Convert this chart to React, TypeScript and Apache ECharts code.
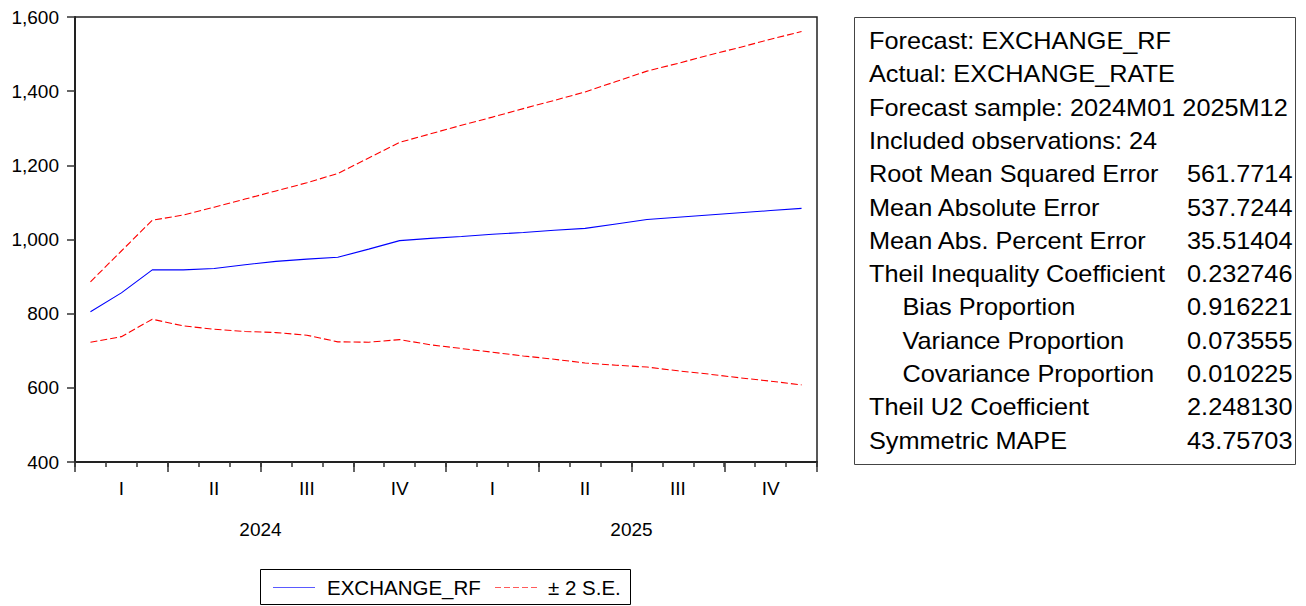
import React, { useEffect, useRef } from "react";
import * as echarts from "echarts";

const months = [
  "2024M01", "2024M02", "2024M03", "2024M04", "2024M05", "2024M06",
  "2024M07", "2024M08", "2024M09", "2024M10", "2024M11", "2024M12",
  "2025M01", "2025M02", "2025M03", "2025M04", "2025M05", "2025M06",
  "2025M07", "2025M08", "2025M09", "2025M10", "2025M11", "2025M12",
];
const quarterLabels = ["I", "II", "III", "IV", "I", "II", "III", "IV"];
const yearLabels = ["2024", "2025"];

const forecast = [805, 856, 918, 918, 922, 932, 941, 947, 952, 974, 997, 1003,
  1008, 1014, 1019, 1025, 1030, 1042, 1054, 1060, 1066, 1072, 1078, 1084];
const upperBand = [886, 969, 1052, 1066, 1087, 1109, 1131, 1153, 1178, 1220, 1262, 1285,
  1308, 1330, 1353, 1375, 1398, 1426, 1454, 1475, 1497, 1518, 1540, 1561];
const lowerBand = [723, 738, 785, 767, 758, 752, 749, 742, 724, 723, 730, 716,
  706, 696, 686, 677, 667, 661, 656, 646, 637, 627, 618, 608];

const statLabels = [
  "Forecast: EXCHANGE_RF",
  "Actual: EXCHANGE_RATE",
  "Forecast sample: 2024M01 2025M12",
  "Included observations: 24",
  "Root Mean Squared Error",
  "Mean Absolute Error",
  "Mean Abs. Percent Error",
  "Theil Inequality Coefficient",
  "Bias Proportion",
  "Variance Proportion",
  "Covariance Proportion",
  "Theil U2 Coefficient",
  "Symmetric MAPE",
];
const statValues = ["", "", "", "", "561.7714", "537.7244", "35.51404", "0.232746",
  "0.916221", "0.073555", "0.010225", "2.248130", "43.75703"];
const statIndented = [false, false, false, false, false, false, false, false, true, true, true, false, false];

const FONT = "'Liberation Sans', Arial, Helvetica, sans-serif";

export default function App() {
  const ref = useRef<HTMLDivElement>(null);
  useEffect(() => {
    if (!ref.current) return;
    const chart = echarts.init(ref.current, null, { renderer: "svg" });
    const axisColor = "#222";
    const tickStyle = { color: "#333", width: 1.5 };
    const labelBase = { color: "#000", fontSize: 19, fontFamily: FONT };
    const dash = [7, 3];

    const graphics: any[] = [];
    // stats panel
    graphics.push({
      type: "rect",
      shape: { x: 854.5, y: 17.5, width: 441, height: 447 },
      style: { fill: "#fff", stroke: "#444", lineWidth: 1 },
      z: 10,
    });
    statLabels.forEach((t, i) => {
      const y = 41 + 33.3 * i;
      graphics.push({
        type: "text",
        x: statIndented[i] ? 902.5 : 869,
        y,
        scaleX: 1.1,
        z: 11,
        style: {
          text: t, x: 0, y: 0, fill: "#000", fontSize: 23, fontFamily: FONT,
          textAlign: "left", textVerticalAlign: "middle", align: "left", verticalAlign: "middle",
        },
      });
      if (statValues[i]) {
        graphics.push({
          type: "text",
          x: 1292.5,
          y,
          scaleX: 1.1,
          z: 11,
          style: {
            text: statValues[i], x: 0, y: 0, fill: "#000", fontSize: 23, fontFamily: FONT,
            textAlign: "right", textVerticalAlign: "middle", align: "right", verticalAlign: "middle",
          },
        });
      }
    });
    // legend
    graphics.push({
      type: "rect",
      shape: { x: 260.5, y: 569.5, width: 370, height: 35 },
      style: { fill: "#fff", stroke: "#000", lineWidth: 1 },
      z: 10,
    });
    graphics.push({
      type: "line",
      shape: { x1: 273, y1: 587.5, x2: 315, y2: 587.5 },
      style: { stroke: "#5a5aff", lineWidth: 1 },
      z: 11,
    });
    graphics.push({
      type: "text",
      x: 327, y: 587.5, z: 11,
      style: {
        text: "EXCHANGE_RF", x: 0, y: 0, fill: "#000", fontSize: 20.5, fontFamily: FONT,
        textAlign: "left", textVerticalAlign: "middle", align: "left", verticalAlign: "middle",
      },
    });
    graphics.push({
      type: "line",
      shape: { x1: 495, y1: 587.5, x2: 537, y2: 587.5 },
      style: { stroke: "#ff5a5a", lineWidth: 1, lineDash: [6, 3] },
      z: 11,
    });
    graphics.push({
      type: "text",
      x: 548, y: 587.5, z: 11,
      style: {
        text: "± 2 S.E.", x: 0, y: 0, fill: "#000", fontSize: 20.5, fontFamily: FONT,
        textAlign: "left", textVerticalAlign: "middle", align: "left", verticalAlign: "middle",
      },
    });

    chart.setOption({
      animation: false,
      backgroundColor: "#fff",
      textStyle: { fontFamily: FONT },
      grid: {
        left: 75, top: 17, width: 742, height: 445,
        show: true, borderColor: axisColor, borderWidth: 1.5, backgroundColor: "transparent",
        containLabel: false, outerBoundsMode: "none",
      },
      xAxis: [
        {
          type: "category", data: months, position: "bottom", boundaryGap: true,
          axisLine: { show: true, lineStyle: { color: axisColor, width: 2 } },
          axisTick: { show: true, interval: 0, length: 5, lineStyle: tickStyle },
          axisLabel: { show: false },
          splitLine: { show: false },
        },
        {
          type: "category", data: quarterLabels.map((_q, i) => "q" + i), position: "bottom", boundaryGap: true,
          axisLine: { show: false },
          axisTick: { show: true, interval: 0, length: 10, lineStyle: tickStyle },
          axisLabel: { ...labelBase, interval: 0, margin: 17, formatter: (_v: string, i: number) => quarterLabels[i] },
          splitLine: { show: false },
        },
        {
          type: "category", data: yearLabels, position: "bottom", boundaryGap: true,
          axisLine: { show: false },
          axisTick: { show: false },
          axisLabel: { ...labelBase, interval: 0, margin: 58 },
          splitLine: { show: false },
        },
      ],
      yAxis: {
        type: "value", min: 400, max: 1600, interval: 200,
        axisLine: { show: true, lineStyle: { color: axisColor, width: 2 } },
        axisTick: { show: true, length: 8, lineStyle: tickStyle },
        axisLabel: { ...labelBase, margin: 16, formatter: (v: number) => v.toLocaleString("en-US") },
        splitLine: { show: false },
      },
      series: [
        {
          type: "line", name: "EXCHANGE_RF", data: forecast, xAxisIndex: 0, symbol: "none",
          lineStyle: { color: "#0000ff", width: 1.1 }, itemStyle: { color: "#0000ff" }, silent: true,
        },
        {
          type: "line", name: "± 2 S.E.", data: upperBand, xAxisIndex: 0, symbol: "none",
          lineStyle: { color: "#ff0000", width: 1.1, type: dash }, itemStyle: { color: "#ff0000" }, silent: true,
        },
        {
          type: "line", name: "± 2 S.E. (lower)", data: lowerBand, xAxisIndex: 0, symbol: "none",
          lineStyle: { color: "#ff0000", width: 1.1, type: dash }, itemStyle: { color: "#ff0000" }, silent: true,
        },
      ],
      graphic: graphics,
    });
    return () => chart.dispose();
  }, []);
  return (
    <div
      ref={ref}
      style={{ position: "absolute", left: 0, top: 0, width: 1306, height: 606 }}
    />
  );
}
